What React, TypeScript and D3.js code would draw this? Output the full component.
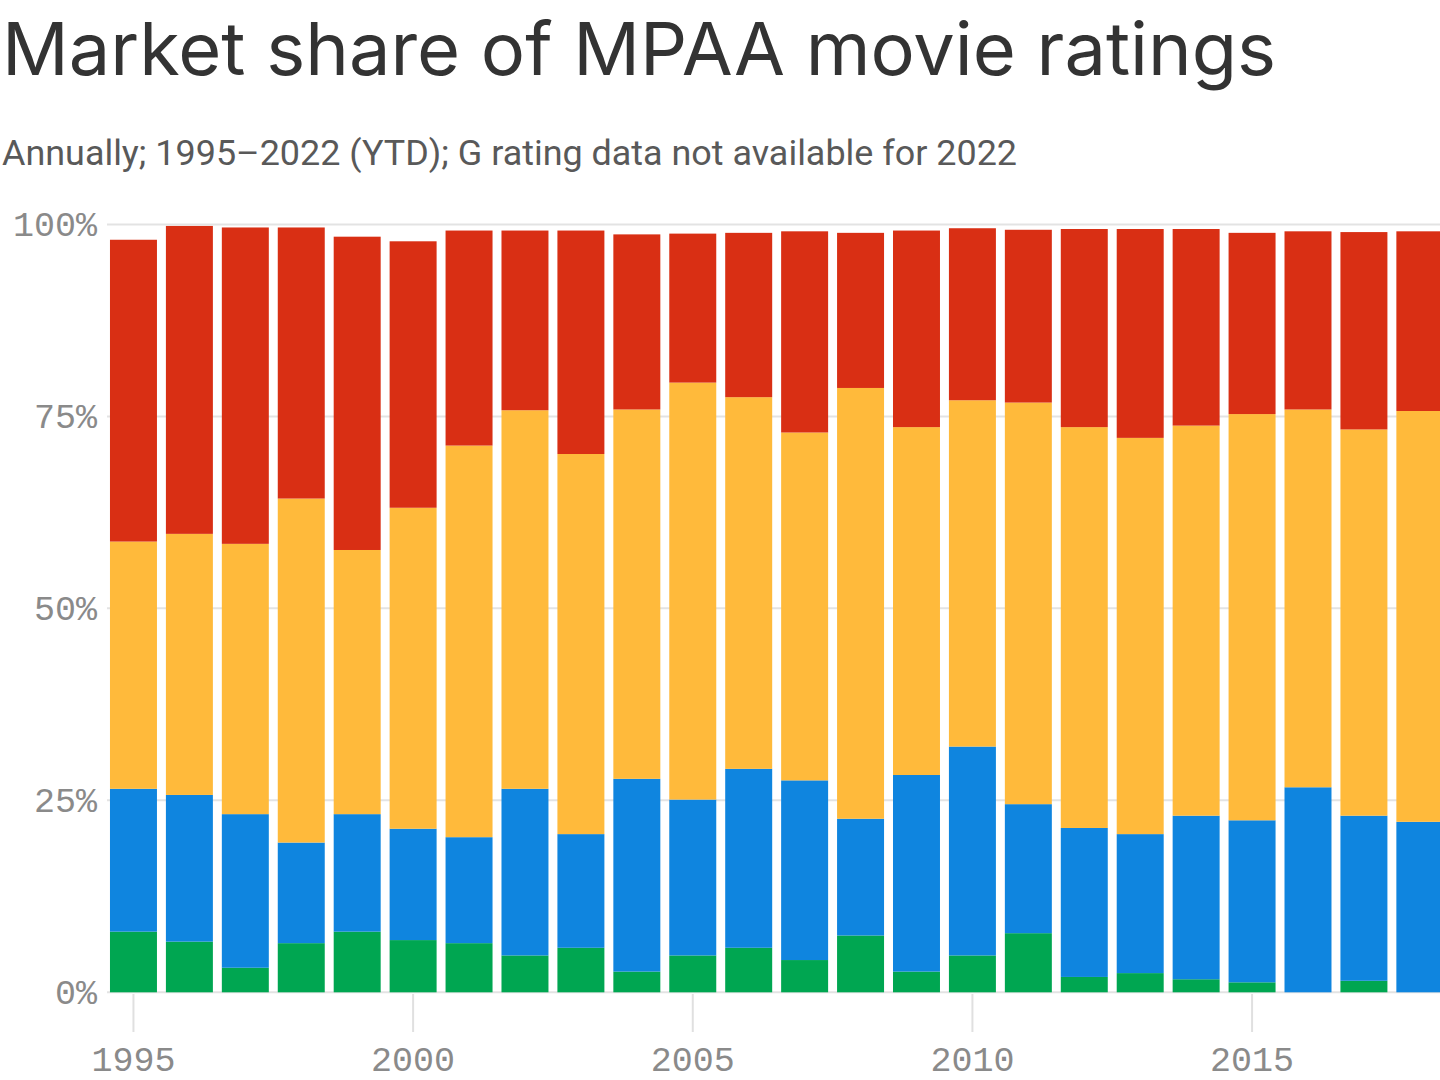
import React from "react";
import * as d3 from "d3";

const years = [1995, 1996, 1997, 1998, 1999, 2000, 2001, 2002, 2003, 2004, 2005, 2006, 2007, 2008, 2009, 2010, 2011, 2012, 2013, 2014, 2015, 2016, 2017, 2018];
const gShare = [7.9, 6.6, 3.2, 6.4, 7.9, 6.8, 6.4, 4.8, 5.8, 2.7, 4.8, 5.8, 4.2, 7.4, 2.7, 4.8, 7.7, 2.0, 2.5, 1.7, 1.3, 0, 1.5, 0];
const pgShare = [18.6, 19.1, 20.0, 13.1, 15.3, 14.5, 13.8, 21.7, 14.8, 25.1, 20.3, 23.3, 23.4, 15.2, 25.6, 27.2, 16.8, 19.4, 18.1, 21.3, 21.1, 26.7, 21.5, 22.2];
const pg13Share = [32.2, 34.0, 35.2, 44.8, 34.4, 41.8, 51.0, 49.3, 49.5, 48.1, 54.3, 48.4, 45.3, 56.1, 45.3, 45.1, 52.3, 52.2, 51.6, 50.8, 52.9, 49.2, 50.3, 53.5];
const rShare = [39.3, 40.1, 41.2, 35.3, 40.8, 34.7, 28.0, 23.4, 29.1, 22.8, 19.4, 21.4, 26.2, 20.2, 25.6, 22.4, 22.5, 25.8, 27.2, 25.6, 23.6, 23.2, 25.7, 23.4];

const ratingKeys = ["G", "PG", "PG-13", "R"];
const ratingColors = ["#00A651", "#0F85DF", "#FFBA3B", "#D92F14"];
const yTicks = [0, 25, 50, 75, 100];
const xTicks = [1995, 2000, 2005, 2010, 2015];

const title = "Market share of MPAA movie ratings";
const subtitle = "Annually; 1995\u20132022 (YTD); G rating data not available for 2022";

export default function App() {
  const W = 1440;
  const H = 1080;
  const rows = years.map((yr, i) => ({
    year: yr,
    G: gShare[i],
    PG: pgShare[i],
    "PG-13": pg13Share[i],
    R: rShare[i],
  }));
  const stack = d3.stack<any>().keys(ratingKeys);
  const series = stack(rows);

  const step = 55.93;
  const x0 = 105.5;
  const x = d3
    .scaleBand<number>()
    .domain(years)
    .range([x0, x0 + step * years.length])
    .paddingInner(0.16)
    .paddingOuter(0.08);
  const y = d3.scaleLinear().domain([0, 100]).range([992.3, 224.4]);

  const tickFont = "'Liberation Mono', 'DejaVu Sans Mono', monospace";

  return (
    <div style={{ position: "absolute", left: 0, top: 0, width: W, height: H, overflow: "hidden", background: "#fff" }}>
      <svg width={W} height={H} style={{ display: "block" }}>
        <text x={2} y={75} fontFamily="Inter, 'Noto Sans', sans-serif" fontSize={73} fill="#333333" textLength={1274} lengthAdjust="spacingAndGlyphs">
          {title}
        </text>
        <text x={2} y={165} fontFamily="Roboto, 'Noto Sans', sans-serif" fontSize={35} fill="#595959" textLength={1015} lengthAdjust="spacingAndGlyphs">
          {subtitle}
        </text>

        {yTicks.map((t) => (
          <g key={"yt" + t}>
            <line x1={107} x2={W} y1={y(t)} y2={y(t)} stroke="#e3e3e3" strokeWidth={2} />
            <text x={97} y={y(t) + 12} textAnchor="end" fontFamily={tickFont} fontSize={35} fill="#8a8a8a">
              {t + "%"}
            </text>
          </g>
        ))}

        {xTicks.map((t) => {
          const cx = (x(t) as number) + x.bandwidth() / 2;
          return (
            <g key={"xt" + t}>
              <line x1={cx} x2={cx} y1={994} y2={1032} stroke="#e0e0e0" strokeWidth={2} />
              <text x={cx} y={1071} textAnchor="middle" fontFamily={tickFont} fontSize={35} fill="#8a8a8a">
                {String(t)}
              </text>
            </g>
          );
        })}

        {series.map((s, si) => (
          <g key={s.key} fill={ratingColors[si]}>
            {s.map((d: any, i: number) => {
              const h = y(d[0]) - y(d[1]);
              if (h <= 0) return null;
              return (
                <rect
                  key={i}
                  x={x(d.data.year) as number}
                  y={y(d[1])}
                  width={x.bandwidth()}
                  height={h}
                />
              );
            })}
          </g>
        ))}
      </svg>
    </div>
  );
}
